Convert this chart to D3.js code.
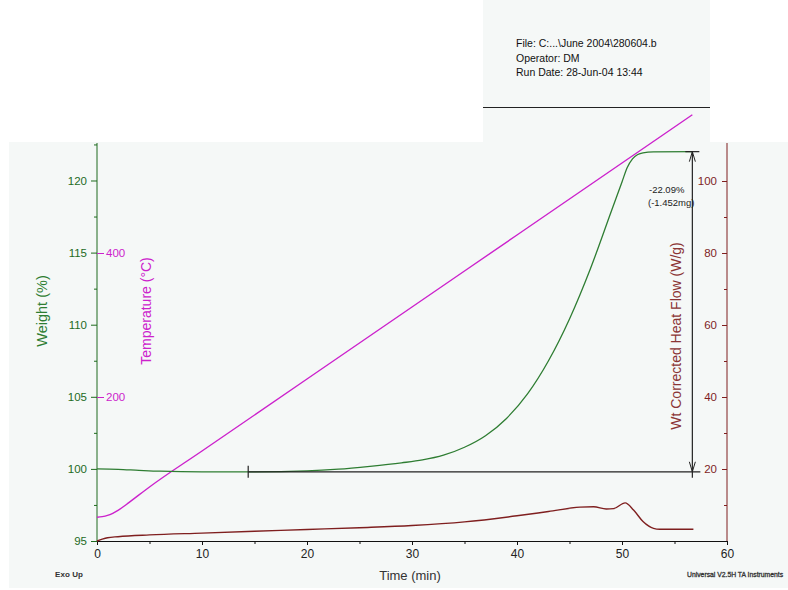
<!DOCTYPE html>
<html><head><meta charset="utf-8">
<script src="https://cdn.jsdelivr.net/npm/d3@7"></script>
<style>body{margin:0;background:#fff}svg{display:block}text{font-family:"Liberation Sans",Arial,sans-serif}</style>
</head><body>
<script>
// ---- data ----
const timeTicks = [0,10,20,30,40,50,60];
const weightTicks = [95,100,105,110,115,120];
const tempTicks = [200,400];
const heatTicks = [20,40,60,80,100];

const weightTime = [0,2,4,6,10,15,20,23,26,29,31,33,35,37,39,41,43,45,47,49,50,50.5,51,51.5,52,53,56.7];
const weightVal  = [100.0,99.97,99.9,99.84,99.8,99.8,99.86,99.98,100.18,100.42,100.62,100.95,101.5,102.3,103.5,105.2,107.5,110.4,113.9,117.9,119.9,120.9,121.5,121.8,121.92,121.98,122.0];

const tempTime = [0,0.5,1,1.5,2,2.5,3,4,5,10,20,30,40,50,56.7];
const tempVal  = [33,33.8,35.5,38.5,42.5,47.5,53,64,75,125,225,325,425,525,592];

const heatTime = [0,0.5,1,2,5,10,15,20,25,30,35,40,43,46,47.3,48.5,49.2,50.3,51.1,52,53,53.6,56.8];
const heatVal  = [0,0.5,0.9,1.2,1.7,2.2,2.7,3.2,3.7,4.3,5.3,7.0,8.2,9.4,9.5,8.9,9.0,10.6,8.6,5.4,3.5,3.25,3.25];

const infoLines = ["File: C:...\\June 2004\\280604.b","Operator: DM","Run Date: 28-Jun-04 13:44"];
const stepStart = 14.4, stepEnd = 56.7, stepBase = 99.8, stepTop = 122.0;

// ---- drawing ----
const W = 788, H = 590;
const svg = d3.select("body").append("svg").attr("width",W).attr("height",H);
const bg = "#f5f8f7";
svg.append("rect").attr("x",9).attr("y",142).attr("width",779).attr("height",446).attr("fill",bg);
svg.append("rect").attr("x",483).attr("y",0).attr("width",227).attr("height",142).attr("fill",bg);
svg.append("line").attr("x1",483).attr("x2",710).attr("y1",107.5).attr("y2",107.5).attr("stroke","#222").attr("stroke-width",1.2);
svg.selectAll("text.info").data(infoLines).join("text").attr("class","info")
  .attr("x",516).attr("y",(d,i)=>47+i*14.5).attr("font-size",10.5).attr("fill","#111").text(d=>d);

const x = d3.scaleLinear().domain([0,60]).range([97,727]);
const yW = d3.scaleLinear().domain([95,122.6]).range([541,143]);
const yT = d3.scaleLinear().domain([0,552.8]).range([541,143]);
const yH = d3.scaleLinear().domain([0,110.56]).range([541,143]);

const green="#2e7d32", axGreen="#1e6b1e", mag="#cc22cc", red="#7f1f1f";

// x axis
const gx = svg.append("g").attr("transform","translate(0,541)")
  .call(d3.axisBottom(x).tickValues(timeTicks).tickSize(4).tickPadding(4).tickFormat(d3.format("d")));
gx.select(".domain").attr("stroke","#111");
gx.selectAll("line").attr("stroke","#111");
gx.selectAll("text").attr("font-size",12).attr("fill","#222").style("font-family","Liberation Sans, Arial, sans-serif");
svg.append("g").attr("transform","translate(0,541)")
  .call(d3.axisBottom(x).tickValues(d3.range(5,60,10)).tickSize(3).tickFormat(""))
  .call(g=>g.select(".domain").remove()).selectAll("line").attr("stroke","#111");

// left weight axis
const gl = svg.append("g").attr("transform","translate(97,0)")
  .call(d3.axisLeft(yW).tickValues(weightTicks).tickSize(6).tickPadding(4).tickFormat(d3.format("d")));
gl.select(".domain").attr("stroke",axGreen).attr("d","M0,143V541");
gl.selectAll("line").attr("stroke",axGreen);
gl.selectAll("text").attr("font-size",11.5).attr("fill",axGreen).style("font-family","Liberation Sans, Arial, sans-serif");
svg.append("g").attr("transform","translate(97,0)")
  .call(d3.axisLeft(yW).tickValues([97.5,102.5,107.5,112.5,117.5,122.5]).tickSize(3).tickFormat(""))
  .call(g=>g.select(".domain").remove()).selectAll("line").attr("stroke",axGreen);

// temperature axis (ticks to the right of left axis)
const gt = svg.append("g").attr("transform","translate(97,0)")
  .call(d3.axisRight(yT).tickValues(tempTicks).tickSize(7).tickPadding(2).tickFormat(d3.format("d")));
gt.select(".domain").remove();
gt.selectAll("line").attr("stroke",mag);
gt.selectAll("text").attr("font-size",11.5).attr("fill",mag).style("font-family","Liberation Sans, Arial, sans-serif");

// right heat flow axis
const gr = svg.append("g").attr("transform","translate(727,0)")
  .call(d3.axisLeft(yH).tickValues(heatTicks).tickSize(5).tickPadding(5).tickFormat(d3.format("d")));
gr.select(".domain").attr("stroke",red).attr("d","M0,143V541");
gr.selectAll("line").attr("stroke",red);
gr.selectAll("text").attr("font-size",11.5).attr("fill",red).style("font-family","Liberation Sans, Arial, sans-serif");
svg.append("g").attr("transform","translate(727,0)")
  .call(d3.axisLeft(yH).tickValues([10,30,50,70,90]).tickSize(3).tickFormat(""))
  .call(g=>g.select(".domain").remove()).selectAll("line").attr("stroke",red);

// axis titles
svg.append("text").attr("transform","translate(47,311) rotate(-90)").attr("text-anchor","middle")
  .attr("font-size",14.5).attr("fill",green).text("Weight (%)");
svg.append("text").attr("transform","translate(151,311) rotate(-90)").attr("text-anchor","middle")
  .attr("font-size",14).attr("fill",mag).text("Temperature (°C)");
svg.append("text").attr("transform","translate(681,336) rotate(-90)").attr("text-anchor","middle")
  .attr("font-size",14).attr("fill","#8b3535").text("Wt Corrected Heat Flow (W/g)");
svg.append("text").attr("x",410).attr("y",580).attr("text-anchor","middle")
  .attr("font-size",13).attr("fill","#333").text("Time (min)");
svg.append("text").attr("x",55).attr("y",577).attr("font-size",8).attr("font-weight","bold")
  .attr("fill","#333").attr("textLength",28).text("Exo Up");
svg.append("text").attr("x",687).attr("y",577).attr("font-size",6.8)
  .attr("fill","#333").attr("stroke","#333").attr("stroke-width",0.3).text("Universal V2.5H TA Instruments");

// curves
const mk = (ts,vs)=>ts.map((t,i)=>[t,vs[i]]);
const lineW = d3.line().x(d=>x(d[0])).y(d=>yW(d[1])).curve(d3.curveMonotoneX);
const lineT = d3.line().x(d=>x(d[0])).y(d=>yT(d[1])).curve(d3.curveMonotoneX);
const lineH = d3.line().x(d=>x(d[0])).y(d=>yH(d[1])).curve(d3.curveMonotoneX);

svg.append("path").attr("d",lineT(mk(tempTime,tempVal))).attr("fill","none").attr("stroke",mag).attr("stroke-width",1.4);
svg.append("path").attr("d",lineH(mk(heatTime,heatVal))).attr("fill","none").attr("stroke",red).attr("stroke-width",1.4);
svg.append("path").attr("d",lineW(mk(weightTime,weightVal))).attr("fill","none").attr("stroke",green).attr("stroke-width",1.3);

// step annotation
const k="#222";
const xb = x(stepEnd), yb = yW(stepBase), yt = yW(stepTop);
svg.append("line").attr("x1",x(stepStart)).attr("x2",xb+8).attr("y1",yb).attr("y2",yb).attr("stroke",k).attr("stroke-width",1.2);
svg.append("line").attr("x1",x(stepStart)).attr("x2",x(stepStart)).attr("y1",yb-6).attr("y2",yb+6).attr("stroke",k).attr("stroke-width",1.2);
svg.append("line").attr("x1",xb-7).attr("x2",xb+7).attr("y1",yt).attr("y2",yt).attr("stroke",k).attr("stroke-width",1.2);
svg.append("line").attr("x1",xb).attr("x2",xb).attr("y1",yt).attr("y2",yb+6).attr("stroke",k).attr("stroke-width",1.2);
svg.append("path").attr("d",`M${xb-3},${yt+10}L${xb},${yt}L${xb+3},${yt+10}`).attr("fill","none").attr("stroke",k);
svg.append("path").attr("d",`M${xb-3},${yb-10}L${xb},${yb}L${xb+3},${yb-10}`).attr("fill","none").attr("stroke",k);
svg.append("text").attr("x",649).attr("y",193).attr("font-size",9.5).attr("fill","#222").text("-22.09%");
svg.append("text").attr("x",648).attr("y",206).attr("font-size",9.5).attr("fill","#222").text("(-1.452mg)");
</script>
</body></html>
